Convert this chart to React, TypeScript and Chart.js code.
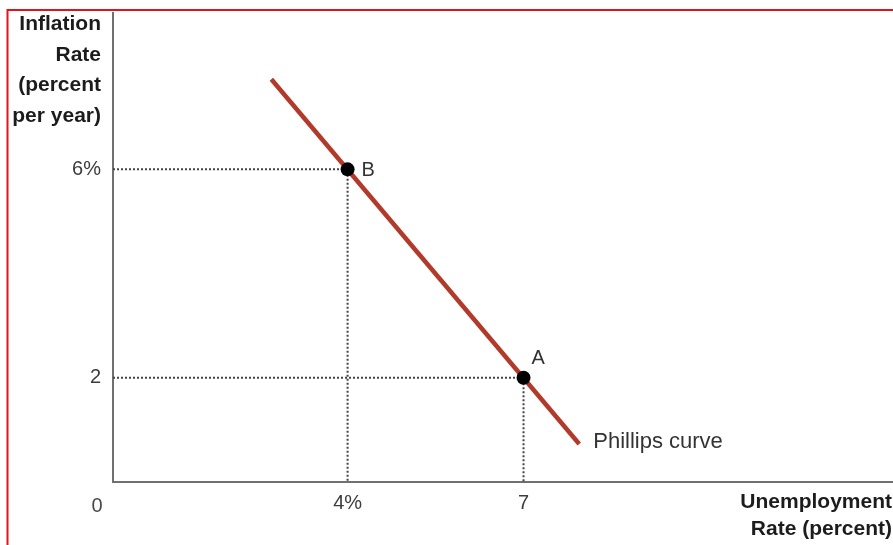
import React, { useEffect, useRef } from "react";
import { Chart, registerables } from "chart.js";

Chart.register(...registerables);

// ---- data ----
const curveX = [2.7, 7.95];
const curveY = [7.73, 0.73];
const pointLabels = ["B", "A"];
const pointX = [4, 7];
const pointY = [6, 2];
const xTickValues = [4, 7];
const xTickLabels = ["4%", "7"];
const yTickValues = [2, 6];
const yTickLabels = ["2", "6%"];
const originLabel = "0";
const yTitleLines = ["Inflation", "Rate", "(percent", "per year)"];
const xTitleLines = ["Unemployment", "Rate (percent)"];
const curveLabel = "Phillips curve";
const X_MAX = 13.3;
const Y_MAX = 9;

const FONT = "'Liberation Sans', Arial, Helvetica, sans-serif";
const W = 893;
const H = 545;

const annotations = {
  id: "annotations",
  beforeDraw(chart: any) {
    const ctx = chart.ctx;
    ctx.save();
    ctx.fillStyle = "#ffffff";
    ctx.fillRect(0, 0, chart.width, chart.height);
    ctx.restore();
  },
  afterDraw(chart: any) {
    const ctx = chart.ctx;
    const { left, bottom } = chart.chartArea;
    const xs = chart.scales.x;
    const ys = chart.scales.y;
    ctx.save();

    // red frame
    ctx.strokeStyle = "#e3121b";
    ctx.lineWidth = 2;
    ctx.beginPath();
    ctx.moveTo(7.5, H);
    ctx.lineTo(7.5, 10);
    ctx.lineTo(W, 10);
    ctx.stroke();

    // origin label
    ctx.fillStyle = "#4a4a4a";
    ctx.font = `20px ${FONT}`;
    ctx.textAlign = "center";
    ctx.textBaseline = "middle";
    ctx.fillText(originLabel, left - 16, bottom + 24);

    // point labels
    ctx.fillStyle = "#333333";
    ctx.textAlign = "left";
    ctx.fillText(pointLabels[0], xs.getPixelForValue(pointX[0]) + 14, ys.getPixelForValue(pointY[0]) + 1);
    ctx.fillText(pointLabels[1], xs.getPixelForValue(pointX[1]) + 8, ys.getPixelForValue(pointY[1]) - 19);

    // curve label
    ctx.font = `22px ${FONT}`;
    ctx.fillStyle = "#333333";
    ctx.fillText(
      curveLabel,
      xs.getPixelForValue(curveX[1]) + 14,
      ys.getPixelForValue(curveY[1]) - 2
    );

    // y axis title
    ctx.font = `bold 21px ${FONT}`;
    ctx.fillStyle = "#1c1c1c";
    ctx.textAlign = "right";
    const yCenters = [24.5, 55, 85.5, 116];
    yTitleLines.forEach((t, i) => ctx.fillText(t, left - 12, yCenters[i]));

    // x axis title
    const xCenters = [502.5, 529];
    xTitleLines.forEach((t, i) => ctx.fillText(t, W - 1, xCenters[i]));

    ctx.restore();
  },
};

function guide(x: number, y: number) {
  return [
    { x: 0, y },
    { x, y },
    { x, y: 0 },
  ];
}

function noPadding(s: any) {
  s.paddingTop = 0;
  s.paddingBottom = 0;
  s.paddingLeft = 0;
  s.paddingRight = 0;
}

export default function App() {
  const ref = useRef<HTMLCanvasElement>(null);

  useEffect(() => {
    const canvas = ref.current;
    if (!canvas) return;
    const chart = new Chart(canvas, {
      type: "scatter",
      data: {
        datasets: [
          {
            label: "points",
            data: pointX.map((x, i) => ({ x, y: pointY[i] })),
            pointRadius: 7,
            pointHoverRadius: 7,
            pointBackgroundColor: "#000000",
            pointBorderColor: "#000000",
            pointBorderWidth: 0,
            showLine: false,
          },
          {
            label: curveLabel,
            data: curveX.map((x, i) => ({ x, y: curveY[i] })),
            showLine: true,
            borderColor: "#b23a2b",
            borderWidth: 4.5,
            pointRadius: 0,
            pointHoverRadius: 0,
            borderCapStyle: "butt",
          },
          ...pointX.map((x, i) => ({
            label: "guide" + i,
            data: guide(x, pointY[i]),
            showLine: true,
            borderColor: "#444444",
            borderWidth: 2,
            borderDash: [2, 2],
            pointRadius: 0,
            pointHoverRadius: 0,
          })),
        ],
      },
      options: {
        responsive: false,
        animation: false,
        events: [],
        layout: { autoPadding: false, padding: { top: 13, right: 0, left: 0, bottom: 0 } },
        plugins: {
          legend: { display: false },
          tooltip: { enabled: false },
        },
        scales: {
          x: {
            type: "linear",
            min: 0,
            max: X_MAX,
            afterFit: (s: any) => {
              s.height = H - 482;
              noPadding(s);
            },
            afterBuildTicks: (s: any) => {
              s.ticks = xTickValues.map((v) => ({ value: v }));
            },
            grid: { display: false, drawTicks: false },
            border: { display: true, color: "#707070", width: 2 },
            ticks: {
              padding: 9,
              color: "#3c3c3c",
              font: { family: FONT, size: 20 },
              callback: (v: any) => {
                const i = xTickValues.indexOf(Number(v));
                return i >= 0 ? xTickLabels[i] : "";
              },
            },
          },
          y: {
            type: "linear",
            min: 0,
            max: Y_MAX,
            afterFit: (s: any) => {
              s.width = 113;
              noPadding(s);
            },
            afterBuildTicks: (s: any) => {
              s.ticks = yTickValues.map((v) => ({ value: v }));
            },
            grid: { display: false, drawTicks: false },
            border: { display: true, color: "#707070", width: 2 },
            ticks: {
              padding: 12,
              color: "#3c3c3c",
              font: { family: FONT, size: 20 },
              callback: (v: any) => {
                const i = yTickValues.indexOf(Number(v));
                return i >= 0 ? yTickLabels[i] : "";
              },
            },
          },
        },
      },
      plugins: [annotations],
    } as any);
    return () => chart.destroy();
  }, []);

  return (
    <div
      style={{
        position: "fixed",
        left: 0,
        top: 0,
        width: W,
        height: H,
        background: "#fff",
      }}
    >
      <canvas ref={ref} width={W} height={H} style={{ width: W, height: H, display: "block" }} />
    </div>
  );
}
